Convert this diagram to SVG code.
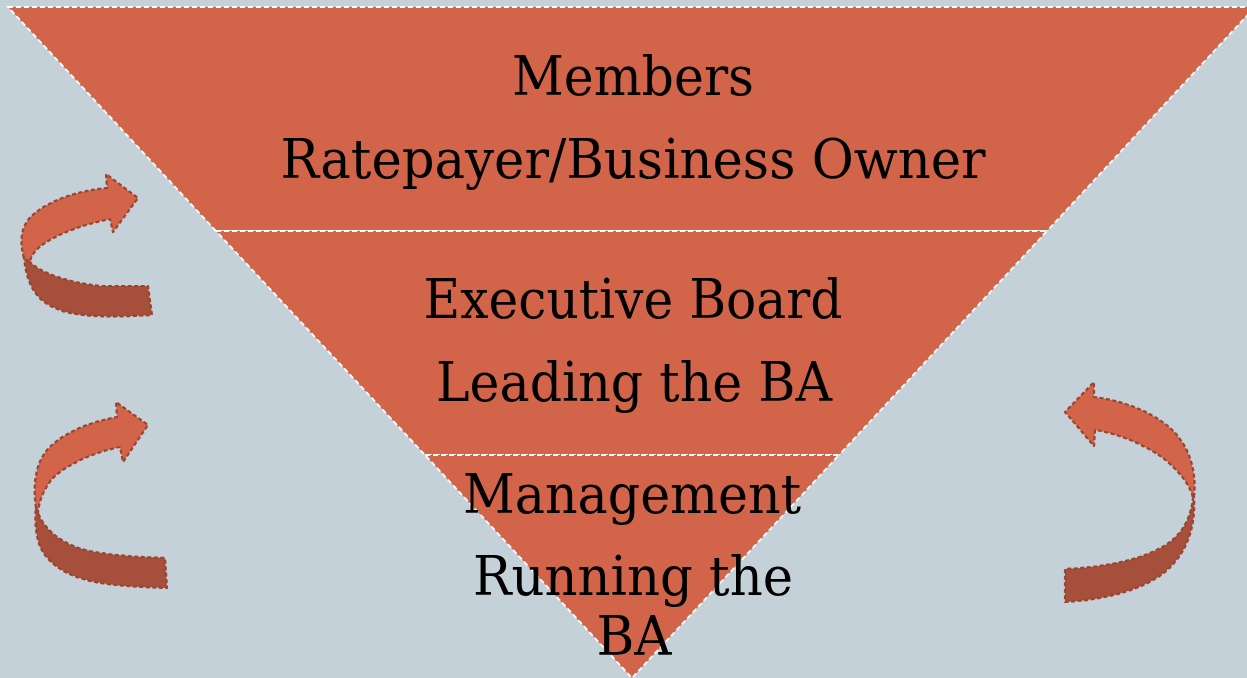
<svg xmlns="http://www.w3.org/2000/svg" width="1247" height="678" viewBox="0 0 1247 678">
  <style>
    .band { fill: #D2644A; stroke: #FFFFFF; stroke-width: 1.8; stroke-dasharray: 5 3; }
    .lbl { font-family: "DejaVu Serif", "Liberation Serif", serif; font-size: 54px; fill: #000000; text-anchor: middle; }
    .arLight { fill: #D2644A; stroke: #9A4432; stroke-width: 2.2; stroke-dasharray: 4 2.5; stroke-linejoin: round; }
    .arDark { fill: #A64F3B; stroke: #9A4432; stroke-width: 2.2; stroke-dasharray: 4 2.5; stroke-linejoin: round; }
  </style>
  <rect x="0" y="0" width="1247" height="678" fill="#C5D1D8"/>

  <g id="members">
    <polygon class="band" points="8,7 1255,7 1047,231 216,231"/>
    <text class="lbl" x="633" y="95" textLength="242" lengthAdjust="spacingAndGlyphs">Members</text>
    <text class="lbl" x="633" y="178" textLength="705" lengthAdjust="spacingAndGlyphs">Ratepayer/Business Owner</text>
  </g>

  <g id="executive-board">
    <polygon class="band" points="216,231 1047,231 839,455 425,455"/>
    <text class="lbl" x="633" y="318" textLength="419" lengthAdjust="spacingAndGlyphs">Executive Board</text>
    <text class="lbl" x="634" y="401" textLength="396" lengthAdjust="spacingAndGlyphs">Leading the BA</text>
  </g>

  <g id="management">
    <polygon class="band" points="425,455 839,455 632,678"/>
    <text class="lbl" x="632" y="513" textLength="338" lengthAdjust="spacingAndGlyphs">Management</text>
    <text class="lbl" x="633" y="595" textLength="320" lengthAdjust="spacingAndGlyphs">Running the</text>
    <text class="lbl" x="634" y="655" textLength="75" lengthAdjust="spacingAndGlyphs">BA</text>
  </g>

  <g id="connectors">
    <g id="arrow-top-left">
      <path class="arDark" d="M 24,257 L 30,262 C 40,272 65,282 100,286 L 148,286 L 152,315 C 120,317 80,318 60,310 C 40,303 27,290 24,257 Z"/>
      <path class="arLight" d="M 24,258 C 19,240 21,224 35,213 C 50,201 75,191 107,188 L 106,174 L 138,198 L 113,232 L 110,219 C 85,224 60,233 45,243 C 36,249 31,255 30,262 Z"/>
    </g>
    <g id="arrow-mid-left">
      <path class="arDark" d="M 36,508 L 38,513 C 45,530 62,545 90,551 C 115,556 140,557 165,558 L 167,588 C 140,587 115,586 95,582 C 60,575 42,558 38,540 C 35,528 35,518 36,508 Z"/>
      <path class="arLight" d="M 36,508 C 32,480 37,458 52,445 C 68,431 90,422 117,417 L 116,402 L 148,425 L 123,462 L 120,447 C 95,452 70,463 55,476 C 45,486 39,500 38,513 Z"/>
    </g>
    <g id="arrow-right">
      <path class="arDark" d="M 1194,497 L 1193,498 C 1191,515 1185,530 1170,542 C 1148,558 1110,567 1065,569 L 1065,602 C 1100,600 1140,592 1165,572 C 1185,555 1196,530 1194,497 Z"/>
      <path class="arLight" d="M 1194,497 C 1197,470 1189,444 1168,426 C 1148,410 1120,400 1094,397 L 1094,382 L 1065,412 L 1094,446 L 1095,430 C 1120,434 1145,445 1163,458 C 1178,470 1190,484 1193,498 Z"/>
    </g>
  </g>
</svg>
